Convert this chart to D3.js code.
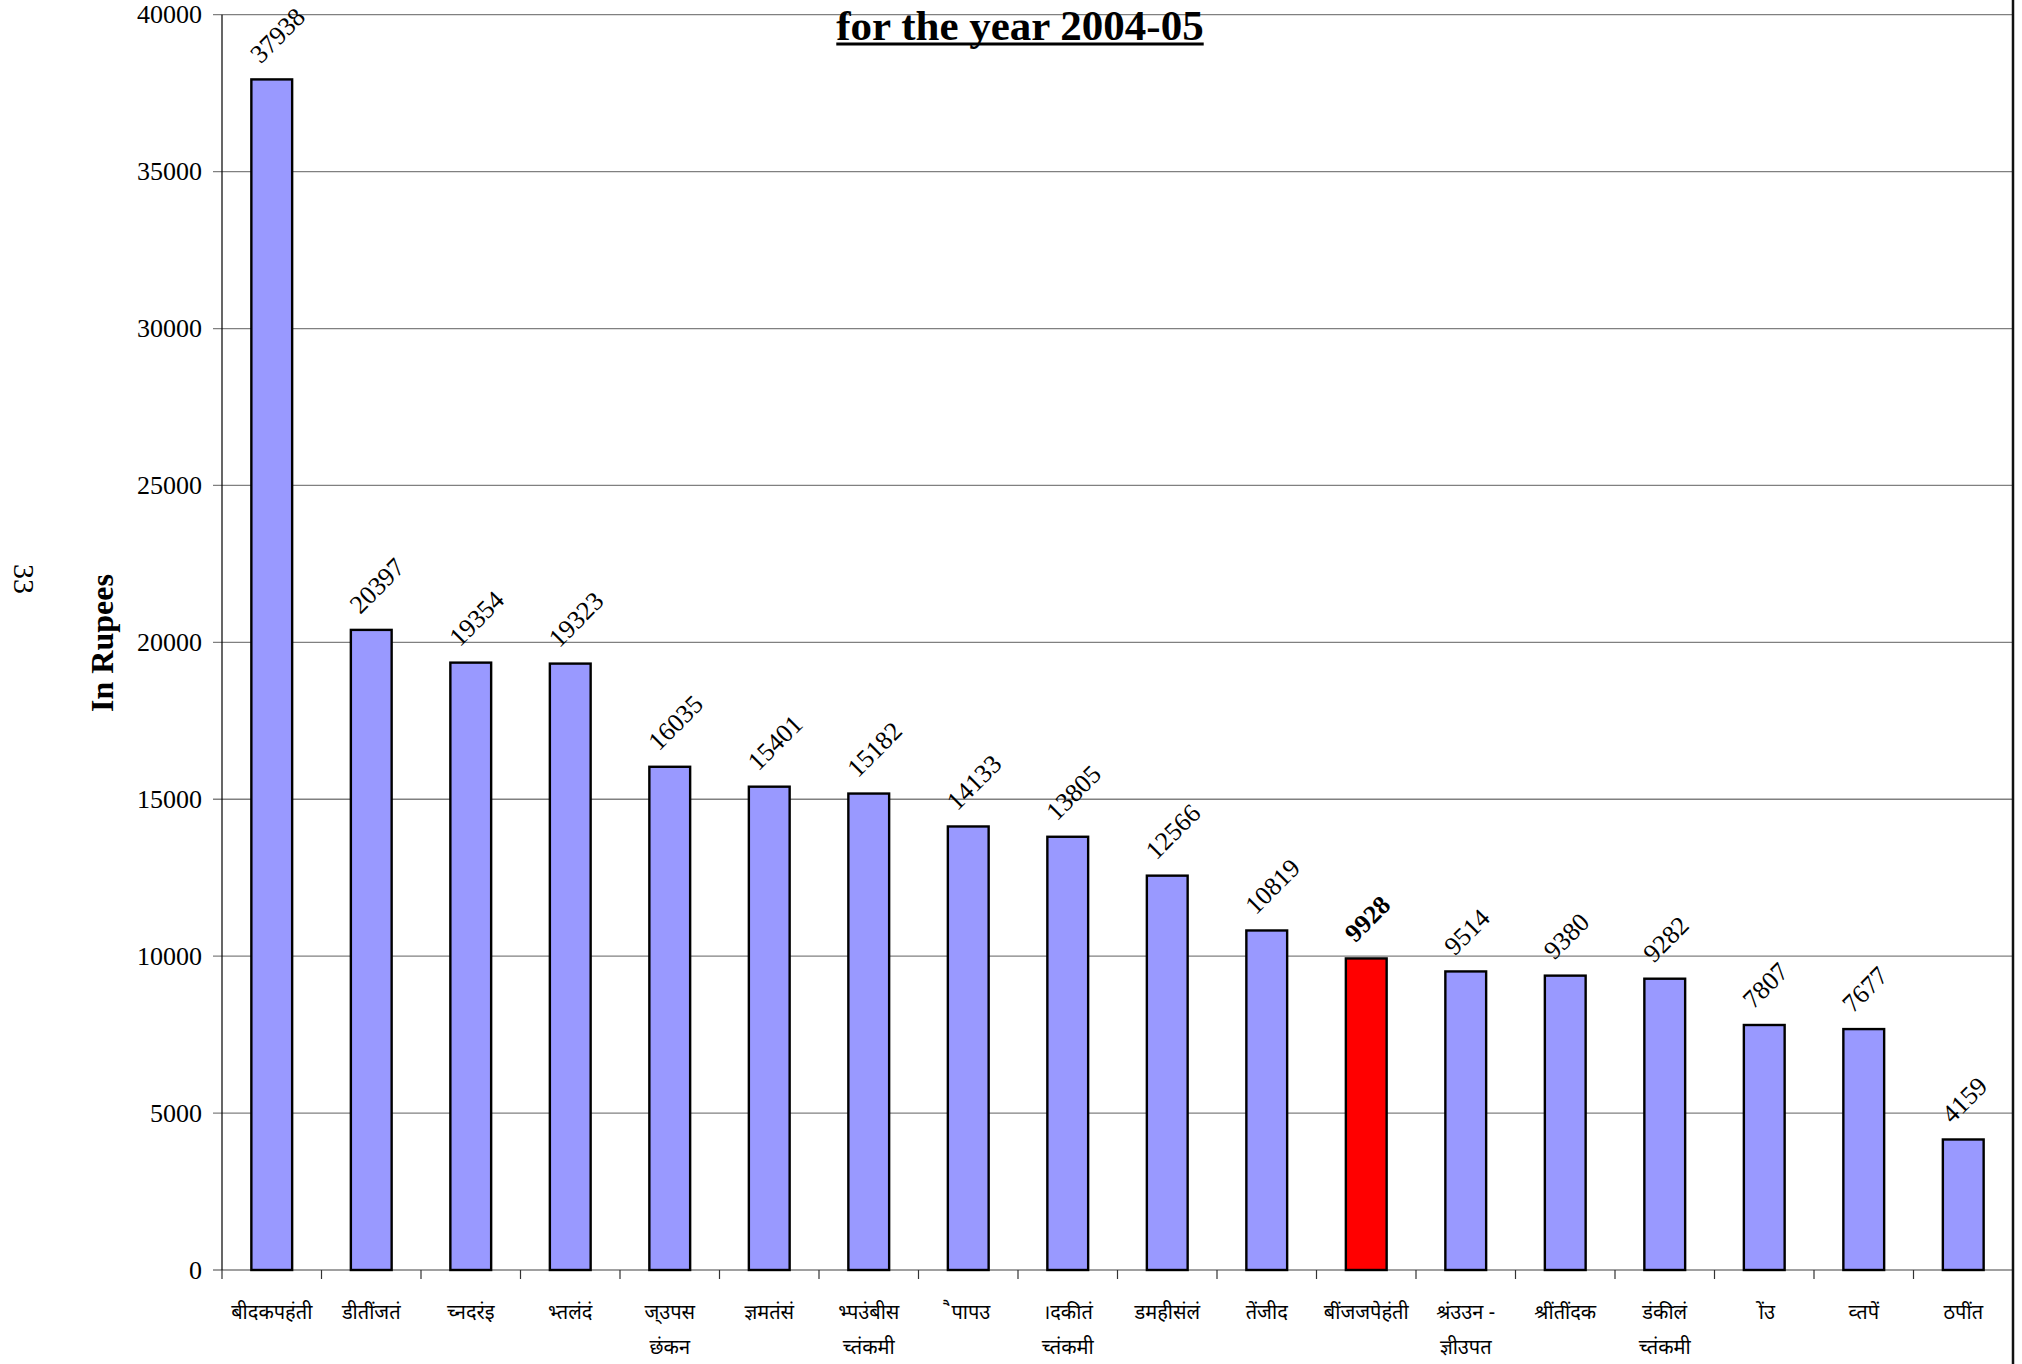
<!DOCTYPE html>
<html>
<head>
<meta charset="utf-8">
<script src="https://cdn.jsdelivr.net/npm/d3@7"></script>
<style>
  html, body { margin: 0; padding: 0; background: #fff; }
  svg { display: block; }
</style>
</head>
<body>
<script>
// ---- data ----
const categories = [
  ["बीदकपहंती"], ["डीतींजतं"], ["च्नदरंइ"], ["भ्तलंदं"], ["ज्उपस", "छंकन"],
  ["ज्ञमतंसं"], ["भ्पउंबीस", "च्तंकमी"], ["\u00A0ैपापउ"], ["।दकीतं", "च्तंकमी"], ["डमहीसंलं"],
  ["तेंजीद"], ["बींजजपेहंती"], ["श्रंउउन -", "ज्ञीउपत"], ["श्रींतींदक"], ["डंकीलं", "च्तंकमी"],
  ["\u00A0ोंउ"], ["व्तपें"], ["ठपींत"]
];
const values = [37938, 20397, 19354, 19323, 16035, 15401, 15182, 14133, 13805, 12566,
                10819, 9928, 9514, 9380, 9282, 7807, 7677, 4159];
const highlightIndex = [11];
const yTicks = [0, 5000, 10000, 15000, 20000, 25000, 30000, 35000, 40000];
const titleText = "for the year 2004-05";
const yLabel = "In Rupees";
const pageNumber = "33";

// ---- layout ----
const W = 2022, H = 1364;
const L = 222, R = 2013, T = 14.7, B = 1270;
const serif = "'Liberation Serif', 'Times New Roman', serif";
const deva = "'Noto Sans Devanagari', 'Lohit Devanagari', 'Noto Sans', 'DejaVu Sans', sans-serif";

const svg = d3.select("body").append("svg").attr("width", W).attr("height", H);

const idx = d3.range(values.length);
const x = d3.scaleBand().domain(idx).range([L, R]).paddingInner(0.59).paddingOuter(0.295);
const step = x.step();
const y = d3.scaleLinear().domain([0, 40000]).range([B, T]);

// gridlines + y ticks
svg.append("g").selectAll("line").data(yTicks).join("line")
  .attr("x1", L - 9).attr("x2", R)
  .attr("y1", d => y(d)).attr("y2", d => y(d))
  .attr("stroke", "#808080").attr("stroke-width", 1.3);

svg.append("g").selectAll("text").data(yTicks).join("text")
  .attr("x", 202).attr("y", d => y(d))
  .attr("text-anchor", "end").attr("dominant-baseline", "central")
  .attr("font-family", serif).attr("font-size", 26).attr("fill", "#000")
  .text(d => d);

// y axis line
svg.append("line").attr("x1", L).attr("x2", L).attr("y1", T).attr("y2", B)
  .attr("stroke", "#000").attr("stroke-width", 1.2);

// x category ticks
const boundaries = d3.range(values.length).map(i => L + i * step);
svg.append("g").selectAll("line").data(boundaries).join("line")
  .attr("x1", d => d).attr("x2", d => d).attr("y1", B).attr("y2", B + 9)
  .attr("stroke", "#333").attr("stroke-width", 1.2);

// right border line
svg.append("line").attr("x1", R).attr("x2", R).attr("y1", 0).attr("y2", H)
  .attr("stroke", "#111").attr("stroke-width", 2.5);

// bars
svg.append("g").selectAll("rect").data(values).join("rect")
  .attr("x", (d, i) => x(i)).attr("width", x.bandwidth())
  .attr("y", d => y(d)).attr("height", d => B - y(d))
  .attr("fill", (d, i) => highlightIndex.includes(i) ? "#FF0000" : "#9999FF")
  .attr("stroke", "#000").attr("stroke-width", 2.4);

// value labels
svg.append("g").selectAll("text").data(values).join("text")
  .attr("transform", (d, i) => `translate(${x(i) + x.bandwidth() / 2 - 11},${y(d) - 15}) rotate(-45)`)
  .attr("font-family", serif).attr("font-size", 26)
  .attr("font-weight", (d, i) => highlightIndex.includes(i) ? "bold" : "normal")
  .attr("fill", "#000")
  .text(d => d);

// category labels
const cl = svg.append("g").selectAll("text").data(categories).join("text")
  .attr("text-anchor", "middle")
  .attr("font-family", deva).attr("font-size", 20).attr("fill", "#000");
cl.each(function(lines, i) {
  const t = d3.select(this);
  lines.forEach((ln, k) => {
    t.append("tspan").attr("x", x(i) + x.bandwidth() / 2).attr("y", 1319 + k * 35).text(ln);
  });
});

// title
const title = svg.append("text")
  .attr("x", 1020).attr("y", 40)
  .attr("text-anchor", "middle")
  .attr("font-family", serif).attr("font-size", 43).attr("font-weight", "bold")
  .attr("fill", "#000")
  .text(titleText);
const tb = title.node().getBBox();
svg.append("line").attr("x1", tb.x).attr("x2", tb.x + tb.width)
  .attr("y1", 44).attr("y2", 44).attr("stroke", "#000").attr("stroke-width", 3);

// y axis label
svg.append("text")
  .attr("transform", "translate(113,643) rotate(-90)")
  .attr("text-anchor", "middle")
  .attr("font-family", serif).attr("font-size", 32).attr("font-weight", "bold")
  .attr("fill", "#000")
  .text(yLabel);

// page number
svg.append("text")
  .attr("transform", "translate(14,579) rotate(90)")
  .attr("text-anchor", "middle")
  .attr("font-family", serif).attr("font-size", 30)
  .attr("fill", "#000")
  .text(pageNumber);
</script>
</body>
</html>
